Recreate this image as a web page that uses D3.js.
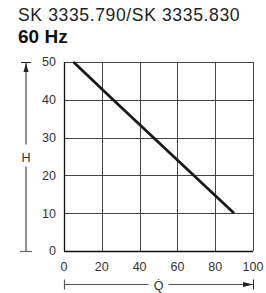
<!DOCTYPE html>
<html>
<head>
<meta charset="utf-8">
<script src="https://cdn.jsdelivr.net/npm/d3@7"></script>
<style>
  body { margin: 0; background: #fff; }
  svg { display: block; font-family: "Liberation Sans", Arial, sans-serif; }
</style>
</head>
<body>
<div id="chart"></div>
<script>
// curve
const flowQ = [5, 26, 90];
const headH = [50, 40, 10];
const xTicks = [0, 20, 40, 60, 80, 100];
const yTicks = [0, 10, 20, 30, 40, 50];
const titleText = "SK 3335.790/SK 3335.830";
const subtitleText = "60 Hz";

const W = 266, H = 293;
const margin = { top: 62, right: 13, bottom: 42, left: 64 };
const width = W - margin.left - margin.right;
const height = H - margin.top - margin.bottom;

const svg = d3.select("#chart").append("svg")
    .attr("width", W)
    .attr("height", H);

svg.append("text")
    .attr("x", 18).attr("y", 21)
    .attr("font-size", 17.6)
    .attr("letter-spacing", 0.6)
    .attr("fill", "#222")
    .text(titleText);

svg.append("text")
    .attr("x", 18).attr("y", 43)
    .attr("font-size", 19)
    .attr("font-weight", "bold")
    .attr("fill", "#111")
    .text(subtitleText);

const g = svg.append("g").attr("transform", `translate(${margin.left},${margin.top})`);

const x = d3.scaleLinear().domain([0, 100]).range([0, width]);
const y = d3.scaleLinear().domain([0, 50]).range([height, 0]);

// grid
g.append("g").selectAll("line").data(xTicks).join("line")
    .attr("x1", d => Math.round(x(d)) + 0.5).attr("x2", d => Math.round(x(d)) + 0.5)
    .attr("y1", 0).attr("y2", height)
    .attr("stroke", "#444").attr("stroke-width", 1);
g.append("g").selectAll("line").data(yTicks).join("line")
    .attr("y1", d => Math.round(y(d)) + 0.5).attr("y2", d => Math.round(y(d)) + 0.5)
    .attr("x1", 0).attr("x2", width)
    .attr("stroke", "#444").attr("stroke-width", 1);

// axes frame
g.append("line").attr("x1", 0.5).attr("x2", 0.5).attr("y1", 0).attr("y2", height)
    .attr("stroke", "#111").attr("stroke-width", 1.3);
g.append("line").attr("x1", 0).attr("x2", width).attr("y1", height + 0.5).attr("y2", height + 0.5)
    .attr("stroke", "#111").attr("stroke-width", 1.3);

// tick labels
g.append("g").selectAll("text").data(yTicks).join("text")
    .attr("x", -8).attr("y", d => y(d))
    .attr("dy", "0.35em")
    .attr("text-anchor", "end")
    .attr("font-size", 12.5)
    .attr("fill", "#333")
    .text(d => d);
g.append("g").selectAll("text").data(xTicks).join("text")
    .attr("x", d => x(d)).attr("y", height + 20)
    .attr("text-anchor", "middle")
    .attr("font-size", 12.5)
    .attr("fill", "#333")
    .text(d => d);

// curve
const pts = flowQ.map((q, i) => [q, headH[i]]);
g.append("path")
    .datum(pts)
    .attr("fill", "none")
    .attr("stroke", "#1a1a1a")
    .attr("stroke-width", 2.8)
    .attr("d", d3.line().x(d => x(d[0])).y(d => y(d[1])));

// H arrow on the left
const hx = 26;
svg.append("line").attr("x1", hx).attr("x2", hx).attr("y1", margin.top).attr("y2", margin.top + height / 2 - 12)
    .attr("stroke", "#222").attr("stroke-width", 1);
svg.append("line").attr("x1", hx).attr("x2", hx).attr("y1", margin.top + height / 2 + 10).attr("y2", margin.top + height)
    .attr("stroke", "#222").attr("stroke-width", 1);
svg.append("line").attr("x1", hx - 5).attr("x2", hx + 5).attr("y1", margin.top + 0.5).attr("y2", margin.top + 0.5)
    .attr("stroke", "#222").attr("stroke-width", 1);
svg.append("line").attr("x1", hx - 6).attr("x2", hx + 6).attr("y1", margin.top + height + 0.5).attr("y2", margin.top + height + 0.5)
    .attr("stroke", "#666").attr("stroke-width", 1.2);
svg.append("path")
    .attr("d", `M${hx},${margin.top + 1} L${hx - 2.5},${margin.top + 10} L${hx + 2.5},${margin.top + 10} Z`)
    .attr("fill", "#222");
svg.append("text")
    .attr("x", hx).attr("y", margin.top + height / 2 + 5)
    .attr("text-anchor", "middle")
    .attr("font-size", 12.5)
    .attr("fill", "#333")
    .text("H");

// Q arrow at the bottom
const qy = 284.5;
const qmid = margin.left + width / 2;
svg.append("line").attr("x1", margin.left).attr("x2", qmid - 10).attr("y1", qy).attr("y2", qy)
    .attr("stroke", "#555").attr("stroke-width", 1);
svg.append("line").attr("x1", qmid + 10).attr("x2", margin.left + width).attr("y1", qy).attr("y2", qy)
    .attr("stroke", "#555").attr("stroke-width", 1);
svg.append("line").attr("x1", margin.left + 0.5).attr("x2", margin.left + 0.5).attr("y1", qy - 5).attr("y2", qy + 5)
    .attr("stroke", "#555").attr("stroke-width", 1.2);
svg.append("line").attr("x1", margin.left + width + 0.5).attr("x2", margin.left + width + 0.5).attr("y1", qy - 5).attr("y2", qy + 5)
    .attr("stroke", "#222").attr("stroke-width", 1);
svg.append("path")
    .attr("d", `M${margin.left + width},${qy} L${margin.left + width - 10},${qy - 2.5} L${margin.left + width - 10},${qy + 2.5} Z`)
    .attr("fill", "#222");
svg.append("text")
    .attr("x", qmid).attr("y", qy + 5)
    .attr("text-anchor", "middle")
    .attr("font-size", 12.5)
    .attr("fill", "#333")
    .text("Q\u0307");
</script>
</body>
</html>
